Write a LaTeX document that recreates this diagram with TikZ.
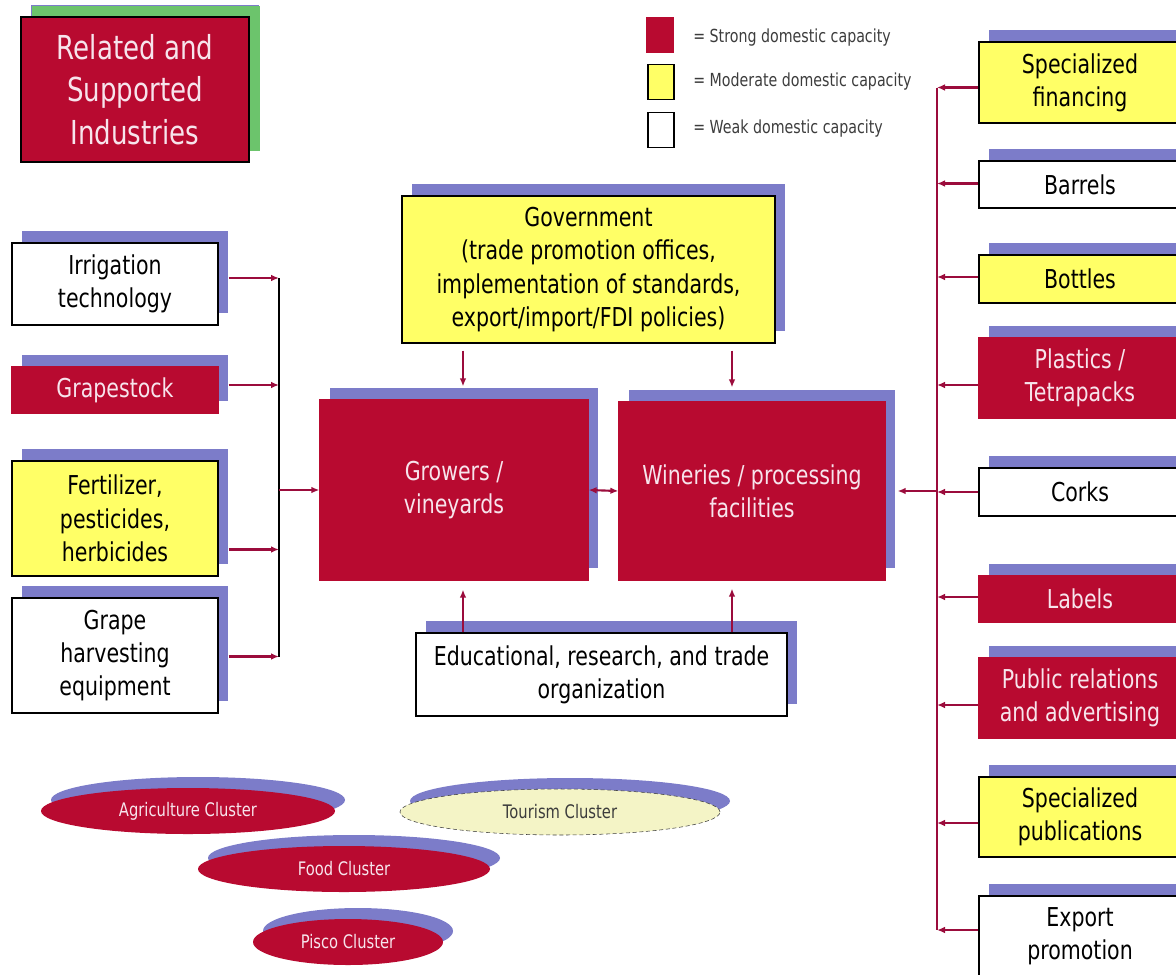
\documentclass[tikz,border=0pt]{standalone}
\usepackage{fontspec}
\setmainfont{DejaVu Sans}[FakeStretch=0.79]
\usetikzlibrary{shapes.geometric, arrows.meta, positioning, calc, shadows}
\definecolor{winered}{HTML}{B80A30}
\definecolor{wineyellow}{HTML}{FFFF66}
\definecolor{wineshade}{HTML}{7C7CC9}
\definecolor{winegreen}{HTML}{6CC46C}
\definecolor{winearrow}{HTML}{9B0C3C}
\definecolor{winetext}{HTML}{F7E4EC}
\definecolor{winegray}{HTML}{3C3C3C}
\definecolor{winecream}{HTML}{F4F4C6}

\tikzset{
  wh/.style 2 args={minimum width=#1, minimum height=#2},
  card/.style={rectangle, inner sep=0pt, align=center, text=black, draw=black,
    line width=0.9pt, font=\fontsize{19.5}{25}\selectfont,
    drop shadow={fill=wineshade, opacity=1, shadow xshift=7.5pt, shadow yshift=9pt}},
  strong/.style={card, fill=winered, draw=winered, text=winetext},
  moderate/.style={card, fill=wineyellow},
  weak/.style={card, fill=white},
  cluster/.style={ellipse, inner sep=0pt, minimum height=34.5pt, fill=winered, text=winetext,
    font=\fontsize{14}{16}\selectfont,
    drop shadow={fill=wineshade, opacity=1, shadow xshift=7.5pt, shadow yshift=8.25pt}},
  legbox/.style={rectangle, inner sep=0pt, wh={19.5pt}{26.25pt}, draw=black, line width=0.9pt},
  legtext/.style={anchor=west, inner sep=0pt, text=winegray, font=\fontsize{13.5}{16}\selectfont},
  arr/.style={winearrow, line width=1.6pt, ->},
  >={Latex[length=6pt,width=5pt]}
}

\begin{document}
\begin{tikzpicture}[x=0.75pt, y=-0.75pt]
  \path[use as bounding box, clip] (0,0) rectangle (1176,974);

  % Title box
  \node[strong, draw=black, wh={171pt}{108.75pt}, font=\fontsize{24.75}{32}\selectfont,
    drop shadow={fill=winegreen, opacity=1, shadow xshift=8.25pt, shadow yshift=8.25pt}]
    (title) at (135,89.5) {Related and\\Supported\\Industries};

  % Legend
  \node[legbox, fill=winered, draw=winered] (legS) at (660,35) {};
  \node[legbox, fill=wineyellow] (legM) at (661,82) {};
  \node[legbox, fill=white] (legW) at (661,130) {};
  \node[legtext] (legSt) at (693,38) {= Strong domestic capacity};
  \node[legtext] (legMt) at (693,82) {= Moderate domestic capacity};
  \node[legtext] (legWt) at (693,129) {= Weak domestic capacity};

  % Core of the cluster
  \node[moderate, wh={279.75pt}{110.25pt}] (gov) at (588.5,269.5)
    {Government\\(trade promotion offices,\\implementation of standards,\\export/import/FDI policies)};
  \node[strong, wh={201pt}{135pt}] (grow) at (454,490) {Growers /\\vineyards};
  \node[strong, wh={199.5pt}{133.5pt}] (win) at (752,491) {Wineries / processing\\facilities};
  \node[weak, wh={278.25pt}{62.25pt}] (edu) at (601.5,674.5)
    {Educational, research, and trade\\organization};

  % Supplies for growers
  \node[weak, wh={154.5pt}{61.5pt}] (irr) at (115,284) {Irrigation\\technology};
  \node[strong, wh={154.5pt}{34.5pt}] (gst) at (115,390) {Grapestock};
  \node[moderate, wh={154.5pt}{86.25pt}] (fert) at (115,518.5) {Fertilizer,\\pesticides,\\herbicides};
  \node[weak, wh={154.5pt}{86.25pt}] (harv) at (115,655.5) {Grape\\harvesting\\equipment};

  % Supplies for wineries
  \node[moderate, wh={151.5pt}{60.75pt}] (fin) at (1080,82.5) {Specialized\\financing};
  \node[weak, wh={151.5pt}{35.25pt}] (bar) at (1080,184.5) {Barrels};
  \node[moderate, wh={151.5pt}{36pt}] (bot) at (1080,279) {Bottles};
  \node[strong, wh={151.5pt}{60pt}] (pla) at (1080,378) {Plastics /\\Tetrapacks};
  \node[weak, wh={151.5pt}{36pt}] (cor) at (1080,492) {Corks};
  \node[strong, wh={151.5pt}{34.5pt}] (lab) at (1080,599) {Labels};
  \node[strong, wh={151.5pt}{60pt}] (pub) at (1080,698) {Public relations\\and advertising};
  \node[moderate, wh={151.5pt}{60pt}] (spu) at (1080,817) {Specialized\\publications};
  \node[weak, wh={151.5pt}{60pt}] (exp) at (1080,936) {Export\\promotion};

  % Related clusters
  \node[cluster, minimum width=220.5pt] (agri) at (188,811) {Agriculture Cluster};
  \node[cluster, minimum width=240pt, fill=winecream, text=winegray, draw=winegray,
    densely dashed, thin] (tour) at (560,812) {Tourism Cluster};
  \node[cluster, minimum width=219pt] (food) at (344,869) {Food Cluster};
  \node[cluster, minimum width=142.5pt] (pisco) at (348,942) {Pisco Cluster};

  % Left bus
  \coordinate (lbusTop) at (279,278);
  \coordinate (lbusBot) at (279,657);
  \draw[black, line width=1.5pt] (lbusTop) -- (lbusBot);
  \draw[arr] ($(irr.east)+(10,-6)$) -- ($(irr.east -| lbusTop)+(0,-6)$);
  \draw[arr] ($(gst.east)+(10,-5)$) -- ($(gst.east -| lbusTop)+(0,-5)$);
  \draw[arr] ($(fert.east)+(10,31)$) -- ($(fert.east -| lbusTop)+(0,31)$);
  \draw[arr] ($(harv.east)+(10,1)$) -- ($(harv.east -| lbusTop)+(0,1)$);
  \draw[arr] (lbusTop |- grow.west) -- (grow.west);

  % Right bus
  \coordinate (rbus) at (937,0);
  \draw[winearrow, line width=1.5pt] ($(fin.west -| rbus)+(0,5)$) -- ($(exp.west -| rbus)+(0,-6)$);
  \foreach \n/\dy in {fin/5, bar/-1, bot/-2, pla/7, cor/0, lab/-2, pub/7, spu/6, exp/-6}
    \draw[arr] ($(\n.west)+(0,\dy)$) -- ($(\n.west -| rbus)+(0,\dy)$);
  \draw[arr] (rbus |- win.east) -- ([xshift=9pt]win.east);

  % Government and institutions
  \draw[arr] ($(gov.south)+(-125.5,7)$) -- ($(grow.north)+(9,-13)$);
  \draw[arr] ($(gov.south)+(143.5,7)$) -- ($(win.north)+(-20,-14)$);
  \draw[arr] ($(edu.north)+(-138.5,0)$) -- ($(grow.south)+(9,9)$);
  \draw[arr] ($(edu.north)+(130.5,0)$) -- ($(win.south)+(-20,8)$);
  \draw[arr, <->] (grow.east) -- (win.west);
\end{tikzpicture}
\end{document}
